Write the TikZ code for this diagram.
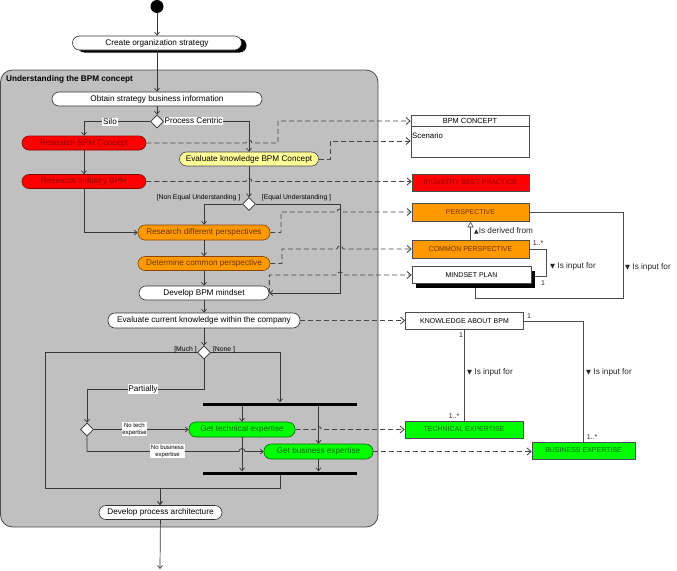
\documentclass[tikz,border=0pt]{standalone}
\usepackage{fontspec}
\setmainfont{Liberation Sans}
\newfontfamily\symfont{DejaVu Sans}
\usetikzlibrary{arrows.meta,shapes.geometric,shadows,calc}
\definecolor{framegray}{RGB}{192,192,192}
\definecolor{frameedge}{RGB}{75,75,75}
\definecolor{linegray}{RGB}{55,55,55}
\definecolor{pillred}{RGB}{255,0,0}
\definecolor{redtext}{RGB}{140,0,0}
\definecolor{pillorange}{RGB}{255,153,0}
\definecolor{orangetext}{RGB}{110,50,0}
\definecolor{pillgreen}{RGB}{0,255,0}
\definecolor{greentext}{RGB}{0,100,0}
\definecolor{pillyellow}{RGB}{255,255,153}
\begin{document}
\begin{tikzpicture}[x=1pt,y=-1pt,
  wh/.style 2 args={minimum width=#1pt, minimum height=#2pt},
  pill/.style={draw=black!80, line width=0.6pt, fill=white, rounded corners=7pt, inner sep=0pt,
    font=\fontsize{8.2}{9.5}\selectfont},
  redpill/.style={pill, fill=pillred, draw=red!55!black, text=redtext},
  orpill/.style={pill, fill=pillorange, draw=orange!55!black, text=orangetext},
  grpill/.style={pill, fill=pillgreen, draw=green!45!black, text=greentext},
  yelpill/.style={pill, fill=pillyellow, draw=black!70},
  dia/.style={diamond, draw=black!80, line width=0.6pt, fill=white, minimum width=13pt, minimum height=13pt, inner sep=0pt},
  bar/.style={fill=black, draw=none, inner sep=0pt, minimum width=154pt, minimum height=3pt},
  flow/.style={draw=linegray, line width=0.7pt, -{Straight Barb[length=3pt,width=5pt]}},
  plainline/.style={draw=linegray, line width=0.7pt},
  dep/.style={draw=black!72, line width=0.9pt, dash pattern=on 5pt off 3pt, -{Straight Barb[length=4pt,width=7pt]}},
  assoc/.style={draw=black!70, line width=0.6pt},
  cls/.style={draw=black!70, line width=0.6pt, inner sep=0pt, font=\fontsize{7}{8}\selectfont},
  lbl/.style={fill=white, inner sep=0.8pt, font=\fontsize{8.2}{9.5}\selectfont},
  glbl/.style={inner sep=0pt, font=\fontsize{6.8}{8}\selectfont},
  slbl/.style={fill=white, inner sep=0.6pt, align=center, font=\fontsize{6}{7}\selectfont},
  alabel/.style={inner sep=0pt, anchor=west, text=black!85, font=\fontsize{8.2}{9.5}\selectfont},
  mult/.style={inner sep=0pt, text=black!85, font=\fontsize{7}{8}\selectfont}
]
\useasboundingbox (0,0) rectangle (677,570);
\fill[white] (0,0) rectangle (677,570);
\draw[draw=frameedge, fill=framegray, line width=0.8pt, rounded corners=12pt] (0.5,70) rectangle (378,527);
\node[anchor=west, inner sep=0pt, font=\bfseries\fontsize{8.2}{9.5}\selectfont] (title) at (6,79) {Understanding the BPM concept};

% ---------- activity nodes ----------
\node[circle, fill=black, inner sep=0pt, minimum size=13pt] (start) at (157,6.5) {};
\node[pill, wh={169}{14}, general shadow={fill=black, shadow xshift=5pt, shadow yshift=-2.5pt}] (cos) at (157,43) {Create organization strategy};
\node[pill, wh={210}{14}] (obt) at (157,99) {Obtain strategy business information};
\node[dia] (d1) at (157,121.5) {};
\node[redpill, wh={124}{14}] (rbc) at (84,143) {Research BPM Concept};
\node[yelpill, wh={139}{14}] (ekc) at (249,159) {Evaluate knowledge BPM Concept};
\node[redpill, wh={124}{14}] (rib) at (84,181.5) {Research industry BPM};
\node[dia] (d2) at (249,204) {};
\node[orpill, wh={132}{15}] (rdp) at (204,232.5) {Research different perspectives};
\node[orpill, wh={132}{14}] (dcp) at (204,263.5) {Determine common perspective};
\node[pill, wh={130}{14}] (dbm) at (204,293) {Develop BPM mindset};
\node[pill, wh={192}{15}] (eck) at (204,320.5) {Evaluate current knowledge within the company};
\node[dia] (d3) at (204,352.5) {};
\node[bar] (bar1) at (280,404) {};
\node[dia] (d4) at (87,429.5) {};
\node[grpill, wh={106}{15}] (gte) at (242,429.5) {Get technical expertise};
\node[grpill, wh={109}{15}] (gbe) at (318.5,451.5) {Get business expertise};
\node[bar] (bar2) at (280,473) {};
\node[pill, wh={123}{14}] (dpa) at (160.5,512.5) {Develop process architecture};
\coordinate (join) at (160,488);
\coordinate (loopc) at (45,488);
\coordinate (eqc) at (340,293);
\coordinate (partc) at (204,389);
\coordinate (endpt) at (160,569);

% ---------- class nodes ----------
\node[cls, fill=white, wh={118}{42}] (bpmc) at (470,136) {};
\draw[assoc] (bpmc.west |- 0,126) -- (bpmc.east |- 0,126);
\node[inner sep=0pt, font=\fontsize{7.4}{8.5}\selectfont] (bpmct) at (470,120.5) {BPM CONCEPT};
\node[anchor=west, inner sep=0pt, font=\fontsize{7.8}{9}\selectfont] (scen) at (412,136) {Scenario};
\node[cls, fill=pillred, text=redtext, wh={117}{17}] (ibp) at (470.5,182.5) {INDUSTRY BEST PRACTICE};
\node[cls, fill=pillorange, text=orangetext, wh={117}{18}] (per) at (470.5,212) {PERSPECTIVE};
\node[cls, fill=pillorange, text=orangetext, wh={117}{18}] (cper) at (470.5,249) {COMMON PERSPECTIVE};
\node[cls, fill=white, wh={119}{17}, general shadow={fill=black, shadow xshift=4pt, shadow yshift=-4pt}] (mp) at (471.5,275) {MINDSET PLAN};
\node[cls, fill=white, wh={118}{17}] (kab) at (464.5,321) {KNOWLEDGE ABOUT BPM};
\node[cls, fill=pillgreen, text=greentext, wh={118}{17}] (tex) at (464,429.5) {TECHNICAL EXPERTISE};
\node[cls, fill=pillgreen, text=greentext, wh={103}{17}] (bex) at (583.5,450.5) {BUSINESS EXPERTISE};

% ---------- control flows ----------
\draw[flow] (start) -- (cos);
\draw[flow] (cos) -- (obt);
\draw[flow] (obt) -- (d1);
\draw[flow] (d1.west) -| (rbc.north);
\draw[flow] (d1.east) -| (ekc.north);
\draw[flow] (rbc) -- (rib);
\draw[flow] (rib.south) |- (rdp.west);
\draw[flow] (ekc) -- (d2);
\draw[flow] (d2.west) -| (rdp.north);
\draw[flow] (d2.east) -| (eqc) -- (dbm.east);
\draw[flow] (rdp) -- (dcp);
\draw[flow] (dcp) -- (dbm);
\draw[flow] (dbm) -- (eck);
\draw[flow] (eck) -- (d3);
\draw[plainline] (d3.west) -| (loopc) -| (bar2.south);
\draw[flow, line width=1pt] (join) -- (join |- dpa.north);
\draw[flow] (d3.east) -| (bar1.north);
\draw[flow] (d3.south) -- (partc) -| (d4.north);
\draw[flow] (d4.east) -- (gte.west);
\draw[flow] (d4.south) |- (239,451.5) arc[start angle=180,end angle=0,radius=3pt] -- (gbe.west);
\draw[flow] (gte.north |- bar1.south) -- (gte.north);
\draw[flow] (gbe.north |- bar1.south) -- (gbe.north);
\draw[flow] (gte.south) -- (gte.south |- bar2.north);
\draw[flow] (gbe.south) -- (gbe.south |- bar2.north);
\draw[flow] (dpa) -- (endpt);

% ---------- object flows (dependencies) ----------
\draw[dep] (rbc.east) -- (246,143) arc[start angle=180,end angle=0,radius=3pt] -- (278,143) -- (278,121) -- (bpmc.west |- 0,121);
\draw[dep] (ekc.east) -- (330,159) -- (330,141) -- (bpmc.west |- 0,141);
\draw[dep] (rib.east) -- (rib.east -| 246,0) arc[start angle=180,end angle=0,radius=3pt] -- (ibp.west |- rib.east);
\draw[dep] (rdp.east) -- (281,232.5) -- (281,212) -- (337,212) arc[start angle=180,end angle=0,radius=3pt] -- (per.west);
\draw[dep] (dcp.east) -- (282,263.5) -- (282,249) -- (337,249) arc[start angle=180,end angle=0,radius=3pt] -- (cper.west);
\draw[dep] (dbm.east) -- (dbm.east |- mp.west) -- (337,275) arc[start angle=180,end angle=0,radius=3pt] -- (mp.west);
\draw[dep] (eck.east) -- (kab.west |- eck.east);
\draw[dep] (gte.east) -- (315.5,429.5) arc[start angle=180,end angle=0,radius=3pt] -- (tex.west);
\draw[dep] (gbe.east) -- (bex.west |- gbe.east);

% ---------- associations ----------
\draw[assoc, -{Triangle[open, length=6pt, width=6pt]}] (cper.north) -- (per.south);
\draw[assoc] (cper.east) -- (546,249) -- (546,276) -- ($(mp.east)+(4,1)$);
\draw[assoc] (per.east) -- (623,212) -- (623,298) -- (475,298) -- ($(mp.south -| 475,0)+(0,4)$);
\draw[assoc] (kab.south) -- (kab.south |- tex.north);
\draw[assoc] (kab.east) -| (bex.north);

% ---------- labels ----------
\node[lbl] (silo) at (110,122) {Silo};
\node[lbl] (pc) at (193.5,121) {Process Centric};
\node[glbl] (neu) at (198.5,198) {[Non Equal Understanding ]};
\node[glbl] (eu) at (296.5,198) {[Equal Understanding ]};
\node[glbl] (much) at (185.5,350) {[Much ]};
\node[glbl] (none) at (224,350) {[None ]};
\node[lbl] (part) at (143,389) {Partially};
\node[slbl] (ntech) at (134.5,429) {No tech\\expertise};
\node[slbl] (nbus) at (167.5,451) {No business\\expertise};
\node[alabel] (derived) at (474,231) {{\symfont\fontsize{6}{7}\selectfont ▲}Is derived from};
\node[alabel] (inp1) at (550,266) {{\symfont\fontsize{6.5}{7}\selectfont ▼}\ Is input for};
\node[alabel] (inp2) at (625,267) {{\symfont\fontsize{6.5}{7}\selectfont ▼}\ Is input for};
\node[alabel] (inp3) at (467,372) {{\symfont\fontsize{6.5}{7}\selectfont ▼}\ Is input for};
\node[alabel] (inp4) at (586,372) {{\symfont\fontsize{6.5}{7}\selectfont ▼}\ Is input for};
\node[mult] (m1) at (538,243) {1..*};
\node[mult] (m2) at (543,283) {1};
\node[mult] (m3) at (461,335) {1};
\node[mult] (m4) at (454,416) {1..*};
\node[mult] (m5) at (529,316) {1};
\node[mult] (m6) at (592,437) {1..*};
\end{tikzpicture}
\end{document}
